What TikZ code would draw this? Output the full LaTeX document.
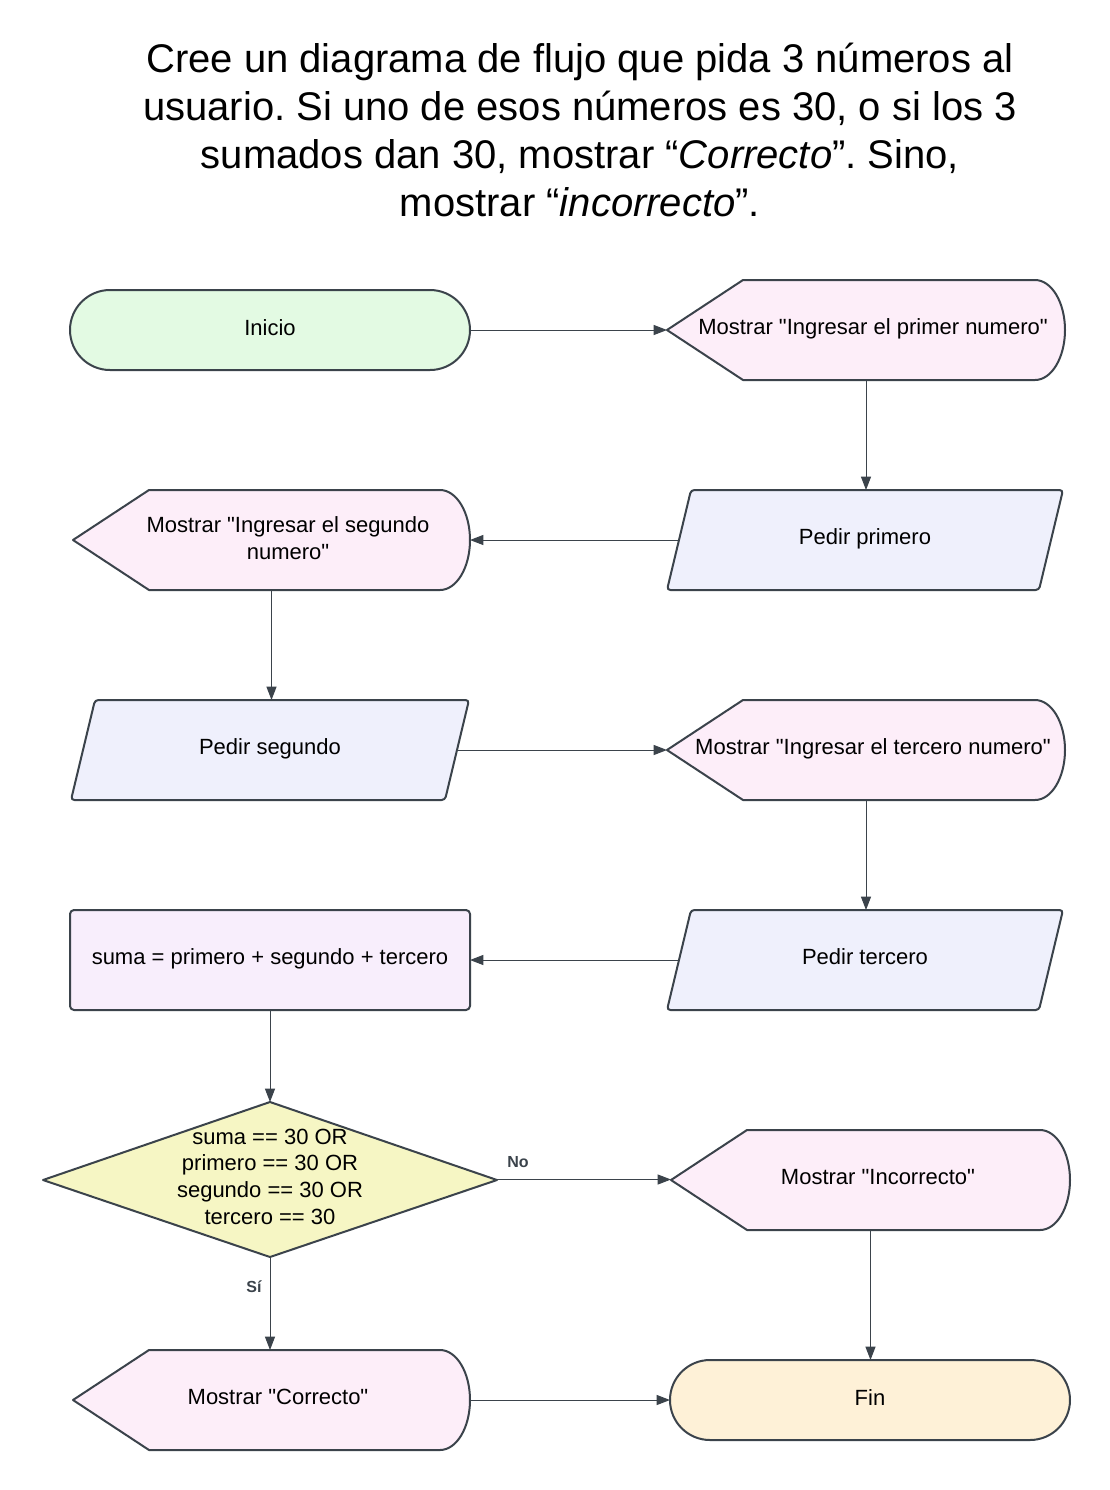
\documentclass[tikz,border=0pt]{standalone}
\usepackage{fontspec}
\setmainfont{Liberation Sans}[Ligatures=TeXOff]
\usetikzlibrary{arrows.meta,fit,calc}
\frenchspacing
\definecolor{stk}{HTML}{3B434B}
\definecolor{cgreen}{HTML}{E3FAE3}
\definecolor{cpink}{HTML}{FDEEF9}
\definecolor{clav}{HTML}{EFF0FC}
\definecolor{cpurp}{HTML}{F8EEFC}
\definecolor{cyel}{HTML}{F6F6C4}
\definecolor{corange}{HTML}{FEF1D7}
\newcommand\rsTerm[6]{%
  \filldraw[shp,fill=#6,rounded corners=30pt] (#2,#3) rectangle (#4,#5);
  \node[box,fit={(#2,#3) (#4,#5)}] (#1) {};}
\newcommand\rsDisp[6]{%
  \pgfmathsetmacro\rsM{(#3+#5)/2}%
  \filldraw[shp,fill=#6] (#2,\rsM) -- ({#2+76},#3) -- ({#4-30},#3)
    .. controls ({#4-13.4},#3) and (#4,{\rsM-27.6}) .. (#4,\rsM)
    .. controls (#4,{\rsM+27.6}) and ({#4-13.4},#5) .. ({#4-30},#5)
    -- ({#2+76},#5) -- cycle;
  \node[box,fit={(#2,#3) (#4,#5)}] (#1) {};}
\newcommand\rsPara[6]{%
  \filldraw[shp,fill=#6,rounded corners=2.5pt] ({#2+24},#3) -- (#4,#3) -- ({#4-24},#5) -- (#2,#5) -- cycle;
  \node[box,fit={(#2,#3) (#4,#5)}] (#1) {};}
\begin{document}
\begin{tikzpicture}[x=0.75pt,y=-0.75pt,
  shp/.style={draw=stk,line width=1.5pt,line join=round},
  box/.style={inner sep=0pt,outer sep=0pt,draw=none},
  txt/.style={font=\fontsize{16.5}{20}\selectfont,anchor=base,inner sep=0pt,align=center},
  ttl/.style={font=\fontsize{30}{36}\selectfont,anchor=base,inner sep=0pt,align=center},
  arr/.style={draw=stk,line width=0.75pt,-{Triangle[length=10pt,width=7.5pt]}},
  lbl/.style={font=\fontsize{12}{14}\bfseries\selectfont,text=stk,anchor=base,inner sep=0pt}]
\useasboundingbox[fill=white] (0,0) rectangle (1110,1490);

\node[ttl] (title) at (580,216) {Cree un diagrama de flujo que pida 3 números al\\usuario. Si uno de esos números es 30, o si los 3\\sumados dan 30, mostrar “\textit{Correcto}”. Sino,\\mostrar “\textit{incorrecto}”.};

\rsTerm{inicio}{70}{290}{470}{370}{cgreen}
\rsDisp{m1}{667}{280}{1065}{380}{cpink}
\rsPara{p1}{667}{490}{1063}{590}{clav}
\rsDisp{m2}{73}{490}{470}{590}{cpink}
\rsPara{p2}{71}{700}{469}{800}{clav}
\rsDisp{m3}{667}{700}{1065}{800}{cpink}
\rsPara{p3}{667}{910}{1063}{1010}{clav}
\filldraw[shp,fill=cpurp,rounded corners=3pt] (70,910) rectangle (470,1010);
\node[box,fit={(70,910) (470,1010)}] (suma) {};
\filldraw[shp,fill=cyel] (43,1180) -- (270,1102) -- (497,1180) -- (270,1257) -- cycle;
\node[box,fit={(43,1102) (497,1257)}] (dec) {};
\rsDisp{minc}{671}{1130}{1070}{1230}{cpink}
\rsDisp{mcor}{73}{1350}{470}{1450}{cpink}
\rsTerm{fin}{670}{1360}{1070}{1440}{corange}

\node[txt] (tinicio) at (270,335) {Inicio};
\node[txt] (tm1) at (873,334) {Mostrar "Ingresar el primer numero"};
\node[txt] (tp1) at (865,544) {Pedir primero};
\node[txt] (tm2) at (288,559) {Mostrar "Ingresar el segundo\\numero"};
\node[txt] (tp2) at (270,754) {Pedir segundo};
\node[txt] (tm3) at (873,754) {Mostrar "Ingresar el tercero numero"};
\node[txt] (tp3) at (865,964) {Pedir tercero};
\node[txt] (tsuma) at (270,964) {suma = primero + segundo + tercero};
\node[txt] (tdec) at (270,1224) {suma == 30 OR\\primero == 30 OR\\segundo == 30 OR\\tercero == 30};
\node[txt] (tminc) at (878,1184) {Mostrar "Incorrecto"};
\node[txt] (tmcor) at (278,1404) {Mostrar "Correcto"};
\node[txt] (tfin) at (870,1405) {Fin};

\draw[arr] (inicio.east) -- (m1.west);
\draw[arr] (m1.south) -- (m1.south |- p1.north);
\draw[arr] ($(p1.west)+(12,0)$) -- (m2.east);
\draw[arr] (m2.south) -- (m2.south |- p2.north);
\draw[arr] ($(p2.east)+(-12,0)$) -- (m3.west);
\draw[arr] (m3.south) -- (m3.south |- p3.north);
\draw[arr] ($(p3.west)+(12,0)$) -- (suma.east);
\draw[arr] (suma.south) -- (dec.north);
\draw[arr] (dec.east) -- (dec.east -| minc.west);
\draw[arr] (dec.south) -- (dec.south |- mcor.north);
\draw[arr] (minc.south) -- (minc.south |- fin.north);
\draw[arr] (mcor.east) -- (fin.west);
\node[lbl] (lno) at (518,1167) {No};
\node[lbl] (lsi) at (254,1292) {Sí};
\end{tikzpicture}
\end{document}
